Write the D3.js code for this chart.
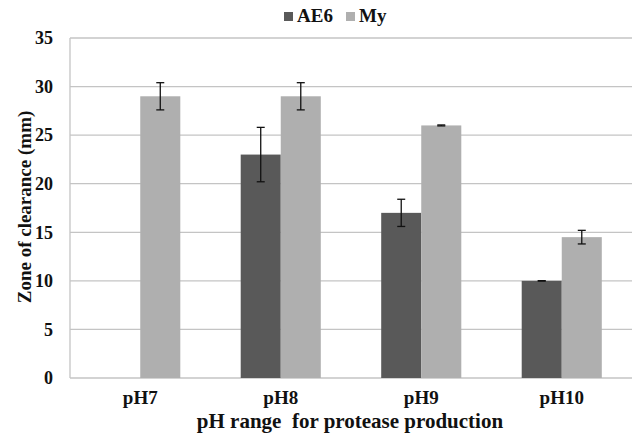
<!DOCTYPE html>
<html>
<head>
<meta charset="utf-8">
<script src="https://cdn.jsdelivr.net/npm/d3@7"></script>
<style>
  html, body { margin: 0; padding: 0; background: #fff; }
  text { font-family: "Liberation Serif", "Times New Roman", serif; font-weight: bold; fill: #111; }
</style>
</head>
<body>
<div id="chart"></div>
<script>
// Data
const categories = ["pH7", "pH8", "pH9", "pH10"];
const seriesNames = ["AE6", "My"];
const ae6Values = [0, 23, 17, 10];
const ae6Errors = [0, 2.8, 1.4, 0.02];
const myValues = [29, 29, 26, 14.5];
const myErrors = [1.4, 1.4, 0.05, 0.7];
const yTicks = [0, 5, 10, 15, 20, 25, 30, 35];

const colors = { AE6: "#595959", My: "#afafaf" };

// Dimensions
const owidth = 633, oheight = 435;
const margin = { top: 38, right: 1, bottom: 57, left: 70 };
const width = owidth - margin.left - margin.right;
const height = oheight - margin.top - margin.bottom;

const svg = d3.select("#chart").append("svg")
  .attr("width", owidth)
  .attr("height", oheight);

const g = svg.append("g")
  .attr("transform", `translate(${margin.left}, ${margin.top})`);

// Scales
const x0 = d3.scaleBand().domain(categories).range([0, width]).paddingInner(0).paddingOuter(0);
const x1 = d3.scaleBand().domain(seriesNames).range([x0.bandwidth() * 0.215, x0.bandwidth() * 0.785]);
const y = d3.scaleLinear().domain([0, 35]).range([height, 0]);

// Gridlines
g.selectAll(".grid").data(yTicks).enter().append("line")
  .attr("x1", 0).attr("x2", width)
  .attr("y1", d => y(d)).attr("y2", d => y(d))
  .attr("stroke", "#c4c4c4").attr("stroke-width", 1.3);

// Left axis line
g.append("line")
  .attr("x1", 0).attr("x2", 0).attr("y1", 0).attr("y2", height)
  .attr("stroke", "#c4c4c4").attr("stroke-width", 1.3);

// Y tick labels
const yAxis = g.append("g")
  .call(d3.axisLeft(y).tickValues(yTicks).tickSize(0).tickPadding(17));
yAxis.select(".domain").remove();
yAxis.selectAll("text")
  .style("font-family", "'Liberation Serif', serif")
  .style("font-weight", "bold")
  .style("font-size", "18px")
  .attr("fill", "#111");

// Rows for bars
const rows = categories.map((c, i) => ({
  cat: c,
  vals: [
    { key: "AE6", v: ae6Values[i], e: ae6Errors[i] },
    { key: "My", v: myValues[i], e: myErrors[i] }
  ]
}));

const groups = g.selectAll(".grp").data(rows).enter().append("g")
  .attr("transform", d => `translate(${x0(d.cat)},0)`);

groups.selectAll("rect").data(d => d.vals.filter(v => v.v > 0)).enter().append("rect")
  .attr("x", d => x1(d.key))
  .attr("width", x1.bandwidth())
  .attr("y", d => y(d.v))
  .attr("height", d => height - y(d.v))
  .attr("fill", d => colors[d.key]);

// Error bars
const eb = groups.selectAll(".err").data(d => d.vals.filter(v => v.v > 0)).enter().append("g");
const cx = d => x1(d.key) + x1.bandwidth() / 2;
eb.append("line")
  .attr("x1", cx).attr("x2", cx)
  .attr("y1", d => y(d.v + d.e)).attr("y2", d => y(d.v - d.e))
  .attr("stroke", "#111").attr("stroke-width", 1.3);
[1, -1].forEach(s => {
  eb.append("line")
    .attr("x1", d => cx(d) - 4).attr("x2", d => cx(d) + 4)
    .attr("y1", d => y(d.v + s * d.e)).attr("y2", d => y(d.v + s * d.e))
    .attr("stroke", "#111").attr("stroke-width", 1.3);
});

// X tick labels
const xAxis = g.append("g")
  .attr("transform", `translate(0, ${height})`)
  .call(d3.axisBottom(x0).tickSize(0).tickPadding(13));
xAxis.select(".domain").remove();
xAxis.selectAll("text")
  .style("font-family", "'Liberation Serif', serif")
  .style("font-weight", "bold")
  .style("font-size", "19px")
  .attr("fill", "#111");

// Axis titles
svg.append("text")
  .attr("x", 350).attr("y", 428)
  .attr("text-anchor", "middle")
  .style("font-size", "21px")
  .style("white-space", "pre")
  .text("pH range  for protease production");

svg.append("text")
  .attr("transform", "translate(31, 207) rotate(-90)")
  .attr("text-anchor", "middle")
  .style("font-size", "19px")
  .text("Zone of clearance (mm)");

// Legend
const legend = svg.append("g");
const legendItems = [
  { key: "AE6", x: 284 },
  { key: "My", x: 346 }
];
legendItems.forEach(it => {
  legend.append("rect")
    .attr("x", it.x).attr("y", 12)
    .attr("width", 9).attr("height", 9)
    .attr("fill", colors[it.key]);
  legend.append("text")
    .attr("x", it.x + 13).attr("y", 22)
    .style("font-size", "19px")
    .text(it.key);
});
</script>
</body>
</html>
